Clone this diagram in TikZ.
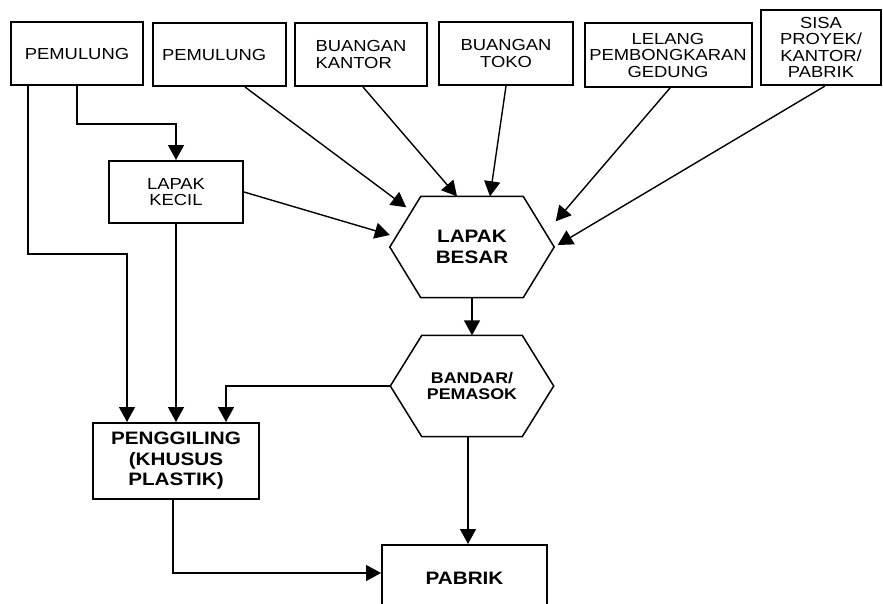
\documentclass[tikz,border=0pt]{standalone}
\usepackage{fontspec}
\setmainfont{Liberation Sans}[FakeStretch=1.15]
\usetikzlibrary{arrows.meta}

\begin{document}
\begin{tikzpicture}[x=1pt, y=1pt, line width=1.4pt, >={Triangle[length=15pt,width=16pt]},
                    main node/.style={rectangle,draw,line width=2pt,inner sep=2pt,align=center,font=\fontsize{16}{16.5}\selectfont},
                    hexa node/.style={rectangle,inner sep=0pt,align=center,minimum height=100pt},
                    big text/.style={font=\fontsize{18}{20.5}\selectfont\bfseries}]

	\useasboundingbox (0,0) rectangle (883,-603);
	\clip (0,0) rectangle (883,-603);

	\node[main node, minimum width=132pt, minimum height=63pt] (1) at (77,-53.5) {PEMULUNG};
	\node[main node, minimum width=133pt, minimum height=63pt, text width=115pt, align=left] (2) at (219.5,-54.5) {PEMULUNG};
	\node[main node, minimum width=132pt, minimum height=63pt, text width=91pt, align=left] (3) at (361,-54.5) {BUANGAN\\KANTOR};
	\node[main node, minimum width=134pt, minimum height=63pt] (4) at (506,-53.5) {BUANGAN\\TOKO};
	\node[main node, minimum width=167pt, minimum height=64pt] (5) at (668,-55) {LELANG\\PEMBONGKARAN\\GEDUNG};
	\node[main node, minimum width=120pt, minimum height=75pt] (6) at (821,-47.5) {SISA\\PROYEK/\\KANTOR/\\PABRIK};

	\node[main node, minimum width=134pt, minimum height=62pt] (9) at (176,-192) {LAPAK\\KECIL};
	\node[hexa node, minimum width=101pt, big text] (7) at (472,-247) {LAPAK\\BESAR};
	\node[hexa node, minimum width=99pt, font=\fontsize{15.5}{15.7}\selectfont\bfseries] (8) at (472,-386) {BANDAR/\\PEMASOK};

	\node[main node, big text, minimum width=166pt, minimum height=76pt] (10) at (176,-461) {PENGGILING\\(KHUSUS\\PLASTIK)};
	\node[main node, big text, minimum width=165pt, minimum height=66pt] (11) at (464.5,-578) {PABRIK};

	\draw[line width=1.5pt] (7.north west) -- (7.north east) -- ([xshift=31pt]7.east) -- (7.south east)
	    -- (7.south west) -- ([xshift=-31pt]7.west) -- cycle;
	\draw[line width=1.5pt] (8.north west) -- (8.north east) -- ([xshift=31.5pt]8.east) -- (8.south east)
	    -- (8.south west) -- ([xshift=-31.5pt]8.west) -- cycle;

  \path[->]
    (9.south) edge (10.north)
    (9.east) edge ([xshift=-31pt,yshift=12pt]7.west)
    ([xshift=25.5pt]2.south) edge ([xshift=-14.5pt,yshift=-11pt]7.north west)
    ([xshift=2pt]3.south) edge ([xshift=-15pt]7.north)
    (4.south) edge ([xshift=18pt]7.north)
    ([xshift=2pt]5.south) edge ([xshift=32.5pt,yshift=-25pt]7.north east)
    ([xshift=4pt]6.south) edge ([xshift=34.5pt,yshift=2pt]7.east)
    (7.south) edge (8.north)
    ([xshift=-4pt]8.south) edge ([xshift=3.5pt]11.north)
    ;

	\draw[->] (1.south) -- ++(0,-38) -| (9.north);
	\draw[->] ([xshift=-49pt]1.south) -- ++(0,-168) -| ([xshift=-49pt]10.north);
	\draw[->] ([xshift=-31.5pt]8.west) -| ([xshift=50pt]10.north);
	\draw[->] ([xshift=-3pt]10.south) |- ([yshift=5pt]11.west);

\end{tikzpicture}
\end{document}
